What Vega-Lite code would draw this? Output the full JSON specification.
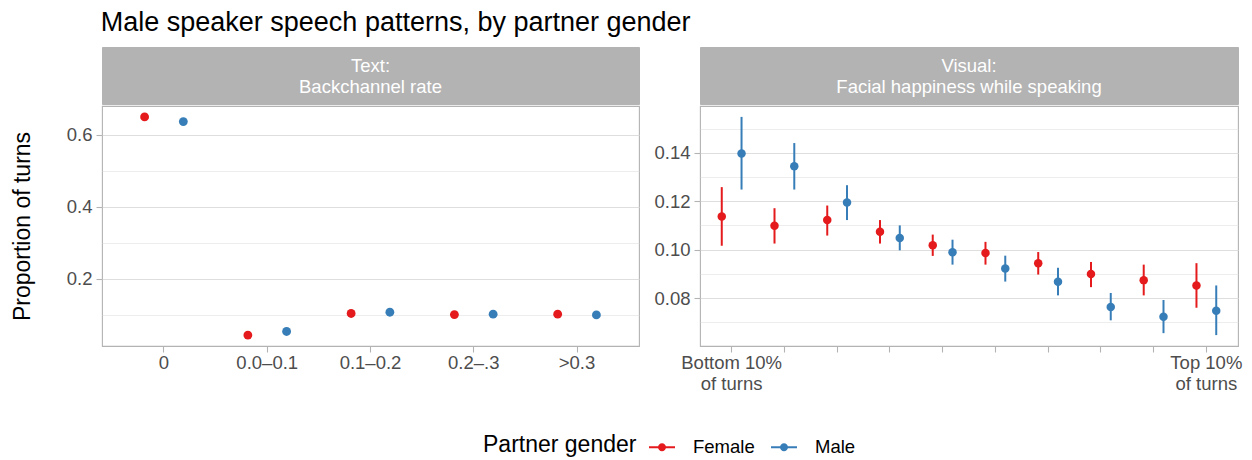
{
  "$schema": "https://vega.github.io/schema/vega-lite/v6.json",
  "padding": {"left": 10, "top": 8, "right": 5, "bottom": 5},
  "title": {"text": "Male speaker speech patterns, by partner gender", "anchor": "start", "dx": 90, "fontSize": 27, "font": "Liberation Sans", "fontWeight": "normal", "color": "black", "offset": 10},
  "columns": 2,
  "align": "each",
  "spacing": {"row": 0, "column": 13},
  "resolve": {"scale": {"xOffset": "independent"}},
  "concat": [
    {
      "width": 537, "height": 57,
      "view": {"fill": "#B3B3B3", "stroke": "#B3B3B3"},
      "data": {"values": [{"label": "Text:\nBackchannel rate"}]},
      "mark": {"type": "text", "color": "white", "fontSize": 18.5, "lineBreak": "\n", "lineHeight": 21, "baseline": "middle", "align": "center", "dy": -10},
      "encoding": {"text": {"field": "label", "type": "nominal"}}
    },
    {
      "width": 538, "height": 57,
      "view": {"fill": "#B3B3B3", "stroke": "#B3B3B3"},
      "data": {"values": [{"label": "Visual:\nFacial happiness while speaking"}]},
      "mark": {"type": "text", "color": "white", "fontSize": 18.5, "lineBreak": "\n", "lineHeight": 21, "baseline": "middle", "align": "center", "dy": -10},
      "encoding": {"text": {"field": "label", "type": "nominal"}}
    },
    {
      "width": 537, "height": 240,
      "data": {"values": [
        {"bin": "0", "gender": "Female", "prop": 0.650},
        {"bin": "0", "gender": "Male", "prop": 0.637},
        {"bin": "0.0–0.1", "gender": "Female", "prop": 0.044},
        {"bin": "0.0–0.1", "gender": "Male", "prop": 0.054},
        {"bin": "0.1–0.2", "gender": "Female", "prop": 0.104},
        {"bin": "0.1–0.2", "gender": "Male", "prop": 0.1075},
        {"bin": "0.2–.3", "gender": "Female", "prop": 0.101},
        {"bin": "0.2–.3", "gender": "Male", "prop": 0.102},
        {"bin": ">0.3", "gender": "Female", "prop": 0.102},
        {"bin": ">0.3", "gender": "Male", "prop": 0.100}
      ]},
      "layer": [
        {
          "mark": {"type": "point", "filled": true, "size": 78, "opacity": 1},
          "encoding": {
            "x": {"field": "bin", "type": "nominal", "sort": ["0", "0.0–0.1", "0.1–0.2", "0.2–.3", ">0.3"], "scale": {"type": "band", "paddingInner": 0, "paddingOuter": 0.1}, "axis": {"title": null, "labelAngle": 0, "bandPosition": 0.5}},
            "xOffset": {"field": "gender", "type": "nominal", "sort": ["Female", "Male"], "scale": {"type": "band", "paddingInner": 0, "paddingOuter": 0.3333}},
            "y": {"field": "prop", "type": "quantitative", "scale": {"domain": [0.0137, 0.6803], "nice": false, "zero": false},
              "axis": {"title": "Proportion of turns", "titlePadding": 32, "values": [0.1, 0.2, 0.3, 0.4, 0.5, 0.6], "format": ".1f",
                "labelExpr": "datum.value == 0.2 || datum.value == 0.4 || datum.value == 0.6 ? datum.label : ''",
                "gridWidth": {"condition": {"test": "datum.value == 0.2 || datum.value == 0.4 || datum.value == 0.6", "value": 1.1}, "value": 0.55},
                "tickOpacity": {"condition": {"test": "datum.value == 0.2 || datum.value == 0.4 || datum.value == 0.6", "value": 1}, "value": 0}}},
            "color": {"field": "gender", "type": "nominal", "scale": {"domain": ["Female", "Male"], "range": ["#E41A1C", "#377EB8"]},
              "legend": {"title": "Partner gender", "orient": "none", "legendX": 381, "legendY": 386, "encode": {"symbols": {"update": {"fill": {"scale": "color", "field": "value"}, "stroke": {"scale": "color", "field": "value"}}}}}}
          }
        }
      ]
    },
    {
      "width": 538, "height": 240,
      "data": {"values": [
        {"decile": 1, "gender": "Female", "est": 0.1137, "lo": 0.1016, "hi": 0.1258},
        {"decile": 1, "gender": "Male", "est": 0.1397, "lo": 0.1248, "hi": 0.1548},
        {"decile": 2, "gender": "Female", "est": 0.1099, "lo": 0.1025, "hi": 0.1171},
        {"decile": 2, "gender": "Male", "est": 0.1344, "lo": 0.1248, "hi": 0.1440},
        {"decile": 3, "gender": "Female", "est": 0.1122, "lo": 0.1058, "hi": 0.1182},
        {"decile": 3, "gender": "Male", "est": 0.1195, "lo": 0.1122, "hi": 0.1266},
        {"decile": 4, "gender": "Female", "est": 0.1074, "lo": 0.1025, "hi": 0.1122},
        {"decile": 4, "gender": "Male", "est": 0.1048, "lo": 0.0997, "hi": 0.1100},
        {"decile": 5, "gender": "Female", "est": 0.1018, "lo": 0.0974, "hi": 0.1062},
        {"decile": 5, "gender": "Male", "est": 0.0989, "lo": 0.0938, "hi": 0.1041},
        {"decile": 6, "gender": "Female", "est": 0.0986, "lo": 0.0938, "hi": 0.1032},
        {"decile": 6, "gender": "Male", "est": 0.0922, "lo": 0.0868, "hi": 0.0975},
        {"decile": 7, "gender": "Female", "est": 0.0944, "lo": 0.0897, "hi": 0.0990},
        {"decile": 7, "gender": "Male", "est": 0.0867, "lo": 0.0811, "hi": 0.0925},
        {"decile": 8, "gender": "Female", "est": 0.0899, "lo": 0.0845, "hi": 0.0949},
        {"decile": 8, "gender": "Male", "est": 0.0763, "lo": 0.0708, "hi": 0.0821},
        {"decile": 9, "gender": "Female", "est": 0.0874, "lo": 0.0811, "hi": 0.0938},
        {"decile": 9, "gender": "Male", "est": 0.0723, "lo": 0.0655, "hi": 0.0792},
        {"decile": 10, "gender": "Female", "est": 0.0852, "lo": 0.0760, "hi": 0.0944},
        {"decile": 10, "gender": "Male", "est": 0.0748, "lo": 0.0647, "hi": 0.0852}
      ]},
      "encoding": {
        "x": {"field": "decile", "type": "ordinal", "scale": {"type": "band", "paddingInner": 0, "paddingOuter": 0.1},
          "axis": {"title": null, "labelAngle": 0, "bandPosition": 0.5, "labelLineHeight": 21,
            "labelExpr": "datum.value == 1 ? ['Bottom 10%', 'of turns'] : datum.value == 10 ? ['Top 10%', 'of turns'] : ''"}},
        "xOffset": {"field": "gender", "type": "nominal", "sort": ["Female", "Male"], "scale": {"type": "band", "paddingInner": 0, "paddingOuter": 0.3333}},
        "color": {"field": "gender", "type": "nominal", "scale": {"domain": ["Female", "Male"], "range": ["#E41A1C", "#377EB8"]},
          "legend": {"title": "Partner gender", "orient": "none", "legendX": 381, "legendY": 386, "encode": {"symbols": {"update": {"fill": {"scale": "color", "field": "value"}, "stroke": {"scale": "color", "field": "value"}}}}}}
      },
      "layer": [
        {
          "mark": {"type": "rule", "strokeWidth": 2},
          "encoding": {
            "y": {"field": "lo", "type": "quantitative", "scale": {"domain": [0.0602, 0.1593], "nice": false, "zero": false},
              "axis": {"title": null, "values": [0.07, 0.08, 0.09, 0.1, 0.11, 0.12, 0.13, 0.14, 0.15], "format": ".2f",
                "labelExpr": "datum.value == 0.08 || datum.value == 0.1 || datum.value == 0.12 || datum.value == 0.14 ? datum.label : ''",
                "gridWidth": {"condition": {"test": "datum.value == 0.08 || datum.value == 0.1 || datum.value == 0.12 || datum.value == 0.14", "value": 1.1}, "value": 0.55},
                "tickOpacity": {"condition": {"test": "datum.value == 0.08 || datum.value == 0.1 || datum.value == 0.12 || datum.value == 0.14", "value": 1}, "value": 0}}},
            "y2": {"field": "hi"}
          }
        },
        {
          "mark": {"type": "point", "filled": true, "size": 72, "opacity": 1},
          "encoding": {
            "y": {"field": "est", "type": "quantitative",
              "axis": {"title": null, "values": [0.07, 0.08, 0.09, 0.1, 0.11, 0.12, 0.13, 0.14, 0.15], "format": ".2f",
                "labelExpr": "datum.value == 0.08 || datum.value == 0.1 || datum.value == 0.12 || datum.value == 0.14 ? datum.label : ''",
                "gridWidth": {"condition": {"test": "datum.value == 0.08 || datum.value == 0.1 || datum.value == 0.12 || datum.value == 0.14", "value": 1.1}, "value": 0.55},
                "tickOpacity": {"condition": {"test": "datum.value == 0.08 || datum.value == 0.1 || datum.value == 0.12 || datum.value == 0.14", "value": 1}, "value": 0}}}
          }
        }
      ]
    }
  ],
  "config": {
    "font": "Liberation Sans",
    "scale": {"offsetBandPaddingInner": 0, "offsetBandPaddingOuter": 0.3333},
    "view": {"stroke": "#B3B3B3", "strokeWidth": 1.1},
    "axis": {"domain": false, "tickColor": "#B3B3B3", "tickSize": 6, "tickWidth": 1.1, "labelColor": "#4D4D4D", "labelFontSize": 18.5, "labelPadding": 1, "gridColor": "#DEDEDE", "gridWidth": 1.1, "titleFontSize": 23, "titleFontWeight": "normal", "titleColor": "black"},
    "axisY": {"labelPadding": 4},
    "legend": {"direction": "horizontal", "titleOrient": "left", "titleFontSize": 23, "titleFontWeight": "normal", "titleColor": "black", "labelFontSize": 18.5, "labelColor": "black",
      "symbolType": "M-1,0H1M-0.23,0A0.23,0.23,0,1,0,0.23,0A0.23,0.23,0,1,0,-0.23,0Z", "symbolSize": 676, "symbolStrokeWidth": 2,
      "titlePadding": 11, "labelOffset": 17, "columnPadding": 12}
  }
}
